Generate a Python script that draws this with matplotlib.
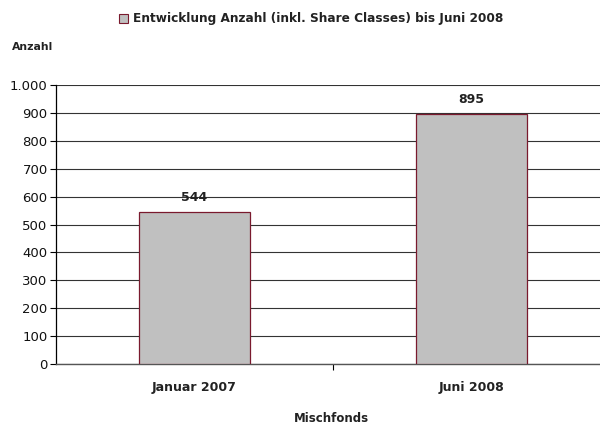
import matplotlib
matplotlib.use('Agg')
import matplotlib.pyplot as plt
from matplotlib.patches import Rectangle
from matplotlib.ticker import FuncFormatter

# data
categories = ['Januar 2007', 'Juni 2008']
values = [544, 895]
yticks = list(range(0, 1001, 100))
series_name = 'Entwicklung Anzahl (inkl. Share Classes) bis Juni 2008'

plt.rcParams['font.family'] = ['DejaVu Sans']

fig = plt.figure(figsize=(6, 4.26), dpi=100)
# the plot area runs past the right edge of the picture, as in the original
ax = fig.add_axes([0.0933, 0.1455, 0.9233, 0.655])

x = list(range(len(categories)))
ax.bar(x, values, width=0.40, color='#c0c0c0', edgecolor='#7a1a2e', linewidth=0.9, zorder=3)

for xi, v in zip(x, values):
    ax.text(xi, v + 28, str(v), ha='center', va='bottom', fontsize=9, fontweight='bold',
            color='#222222', zorder=4)

ax.set_xlim(-0.5, len(categories) - 0.5)
ax.set_ylim(0, 1000)
ax.set_yticks(yticks)
ax.yaxis.set_major_formatter(FuncFormatter(lambda v, p: f'{int(v):,}'.replace(',', '.')))
ax.tick_params(axis='y', labelsize=9.5, length=4, width=0.8, color='black', pad=2, labelcolor='#111111')
ax.grid(axis='y', color='#333333', linewidth=0.8, zorder=0)

# category labels without ticks, separator tick between categories
ax.set_xticks(x)
ax.set_xticklabels(categories, fontsize=9, fontweight='bold', color='#222222')
ax.tick_params(axis='x', length=0, pad=12)
ax.set_xticks([0.5], minor=True)
ax.tick_params(axis='x', which='minor', length=4, width=0.8, color='black')

for s in ['top', 'right']:
    ax.spines[s].set_visible(False)
ax.spines['left'].set_color('black')
ax.spines['left'].set_linewidth(0.9)
ax.spines['bottom'].set_color('#555555')
ax.spines['bottom'].set_linewidth(1.0)

fig.text(0.553, 0.018, 'Mischfonds', fontsize=8.5, fontweight='bold', ha='center', va='center',
         color='#222222')
fig.text(0.02, 0.89, 'Anzahl', fontsize=7.8, fontweight='bold', ha='left', va='center', color='#222222')

# legend at top
fig.patches.append(Rectangle((0.199, 0.947), 0.014, 0.019, transform=fig.transFigure,
                             facecolor='#c0c0c0', edgecolor='#7a1a2e', linewidth=0.8))
fig.text(0.222, 0.957, series_name, fontsize=8.7, fontweight='bold', ha='left', va='center',
         color='#222222')

fig.savefig('out.png', dpi=100)
